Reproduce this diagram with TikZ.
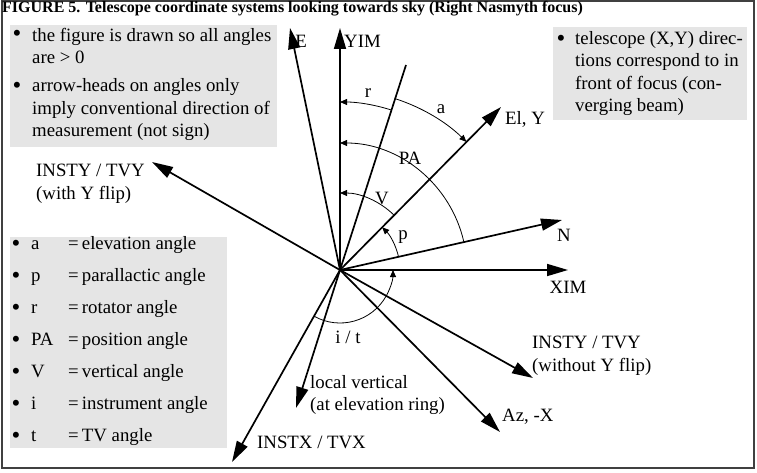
\documentclass[tikz,border=0pt]{standalone}
\usepackage{fontspec}
\setmainfont{Liberation Serif}
\usetikzlibrary{arrows.meta}

\tikzset{
  ray/.style={line width=1.7pt, -{Triangle[length=21pt,width=12pt]}},
  anglearc/.style={line width=0.8pt, -{Triangle[length=7pt,width=6pt]}},
  infobox/.style={fill=black!10, draw=none},
  lbl/.style={inner sep=0pt, align=left, font=\fontsize{18.8}{22.5}\selectfont},
  bull/.style={inner sep=0pt, font=\fontsize{25}{25}\selectfont},
}

\begin{document}
\begin{tikzpicture}[x=1pt,y=1pt]
  \useasboundingbox (0,0) rectangle (757,472);

  % frame and title
  \draw[black!75, line width=1.2pt] (2,4) rectangle (754,471);
  \node[lbl, anchor=west, font=\fontsize{16}{18}\selectfont\bfseries] (title) at (2,463)
    {FIGURE 5. Telescope coordinate systems looking towards sky (Right Nasmyth focus)};

  % grey note boxes
  \fill[infobox] (10,325) rectangle (277,447);
  \fill[infobox] (553,352) rectangle (747,445);
  \fill[infobox] (10,24) rectangle (227,235);

  % notes, top left
  \node[bull] (bull1) at (17,436) {\textbullet};
  \node[lbl, anchor=west] (note1) at (32,426) {the figure is drawn so all angles\\are > 0};
  \node[bull] (bull2) at (17,384) {\textbullet};
  \node[lbl, anchor=west] (note2) at (32,362) {arrow-heads on angles only\\imply conventional direction of\\measurement (not sign)};

  % note, top right
  \node[bull] (bull3) at (561,431) {\textbullet};
  \node[lbl, anchor=west] (note3) at (575,398.5) {telescope (X,Y) direc-\\tions correspond to in\\front of focus (con-\\verging beam)};

  % key to the angles
  \foreach \sym/\txt [count=\k from 0] in {a/elevation, p/parallactic, r/rotator, PA/position, V/vertical, i/instrument, t/TV}{
    \node[bull] (kbull\k) at (16,226-32*\k) {\textbullet};
    \node[lbl, anchor=base west] (ksym\k) at (31,222.5-32*\k) {\sym};
    \node[lbl, anchor=base west] (kdef\k) at (68,222.5-32*\k) {=\,\txt{} angle};
  }

  % origin and arrow ends
  \coordinate (O) at (340,202);
  \coordinate (tipE) at (290,444);
  \coordinate (tipYIM) at (340,444);
  \coordinate (topZ) at (406,407);
  \coordinate (tipEl) at (501,365);
  \coordinate (tipN) at (562,252);
  \coordinate (tipXIM) at (568,202);
  \coordinate (tipTVYn) at (533,94);
  \coordinate (tipAz) at (500,40);
  \coordinate (tipVert) at (296,64);
  \coordinate (tipTVX) at (232,10);
  \coordinate (tipTVYf) at (152,310);

  % directions
  \draw[ray] (O) -- (tipE);
  \draw[ray] (O) -- (tipYIM);
  \draw[line width=1.7pt] (O) -- (topZ);
  \draw[ray] (O) -- (tipEl);
  \draw[ray] (O) -- (tipN);
  \draw[ray] (O) -- (tipXIM);
  \draw[ray] (O) -- (tipTVYn);
  \draw[ray] (O) -- (tipAz);
  \draw[ray] (O) -- (tipVert);
  \draw[ray] (O) -- (tipTVX);
  \draw[ray] (O) -- (tipTVYf);

  % direction labels
  \node[lbl] (labE) at (301,431) {E};
  \node[lbl, anchor=west] (labYIM) at (344,431) {YIM};
  \node[lbl, anchor=west] (labEl) at (505,353) {El, Y};
  \node[lbl] (labN) at (564,237) {N};
  \node[lbl] (labXIM) at (568,185) {XIM};
  \node[lbl, anchor=west] (labTVYn) at (532,116) {INSTY / TVY\\(without Y flip)};
  \node[lbl, anchor=west] (labAz) at (502,55) {Az, -X};
  \node[lbl, anchor=west] (labVert) at (310,77) {local vertical\\(at elevation ring)};
  \node[lbl, anchor=west] (labTVX) at (257,30) {INSTX / TVX};
  \node[lbl, anchor=west] (labTVYf) at (36,288) {INSTY / TVY\\(with Y flip)};

  % angle arcs
  \draw[anglearc] (O) ++(72.2:168) arc[start angle=72.2, end angle=90, radius=168];
  \draw[anglearc] (O) ++(72.2:180) arc[start angle=72.2, end angle=45.4, radius=180];
  \draw[anglearc] (O) ++(12.7:127) arc[start angle=12.7, end angle=90, radius=127];
  \draw[anglearc] (O) ++(45.4:77) arc[start angle=45.4, end angle=90, radius=77];
  \draw[anglearc] (O) ++(12.7:60) arc[start angle=12.7, end angle=45.4, radius=60];
  \draw[anglearc] (O) ++(-119.4:53) arc[start angle=-119.4, end angle=0, radius=53];

  % angle labels
  \node[lbl] (angR) at (368,379) {r};
  \node[lbl] (angA) at (441,363) {a};
  \node[lbl] (angPA) at (410,314) {PA};
  \node[lbl] (angV) at (382,274) {V};
  \node[lbl] (angP) at (403,235) {p};
  \node[lbl] (angI) at (348,135) {i / t};
\end{tikzpicture}
\end{document}
